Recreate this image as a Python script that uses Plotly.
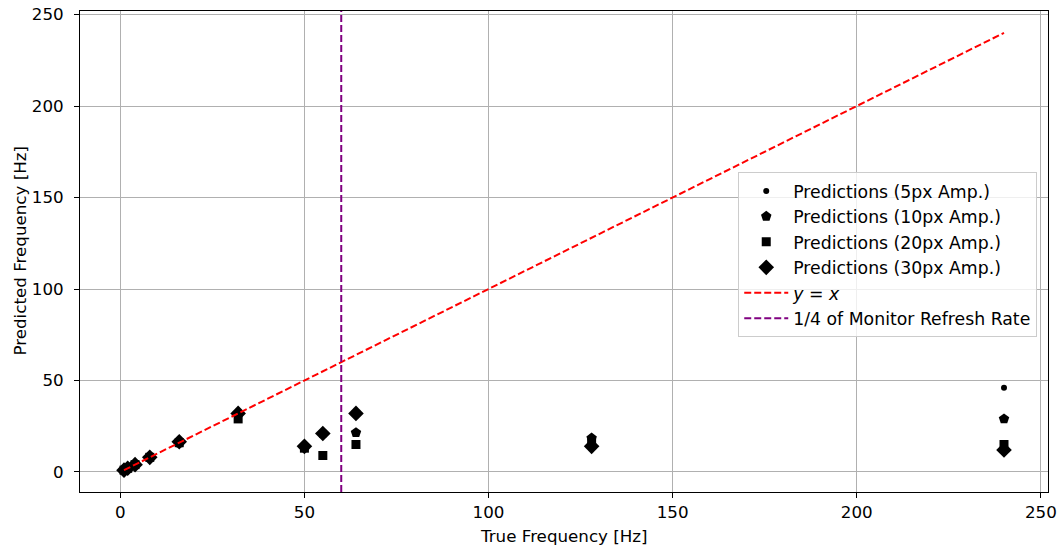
import plotly.graph_objects as go

freqs = [1, 2, 4, 8, 16, 32, 50, 55, 64, 128, 240]
pred_5px = [1, 2, 4, 8, 16, 32, 14, 21, 21, 18, 46]
pred_10px = [1, 2, 4, 8, 16, 32, 14, 21, 21.5, 18.5, 29]
pred_20px = [1, 2, 4, 8, 16, 29, 13, 9, 15, 16, 15]
pred_30px = [1, 2, 4, 8, 16.5, 32, 14, 21, 32, 14, 12]
identity_x = [1, 240]
refresh_quarter = 60

FONT = "DejaVu Sans"
FS = 16.7
LFS = 17.3
fig = go.Figure()

series = [
    ("Predictions (5px Amp.)", pred_5px, "circle", 6),
    ("Predictions (10px Amp.)", pred_10px, "pentagon", 11),
    ("Predictions (20px Amp.)", pred_20px, "square", 9),
    ("Predictions (30px Amp.)", pred_30px, "diamond", 12),
]
for i, (name, ys, sym, sz) in enumerate(series):
    fig.add_trace(go.Scatter(
        x=freqs, y=ys, mode="markers", name=name, legendgroup=f"g{i}",
        marker=dict(symbol=sym, size=sz, color="black", line=dict(width=0)),
    ))

fig.add_trace(go.Scatter(
    x=identity_x, y=identity_x, mode="lines", name="<i>y</i> = <i>x</i>", legendgroup="g4",
    line=dict(color="red", width=2, dash="7px,3px"),
))
fig.add_trace(go.Scatter(
    x=[refresh_quarter, refresh_quarter], y=[-10.95, 251.95], mode="lines",
    name="1/4 of Monitor Refresh Rate", legendgroup="g5",
    line=dict(color="purple", width=2, dash="7px,3px"),
))

axis_common = dict(
    showgrid=True, gridcolor="#b0b0b0", gridwidth=1,
    zeroline=False, showline=True, linecolor="black", linewidth=1, mirror=True,
    ticks="outside", ticklen=5, tickcolor="black", tickwidth=1,
    tickfont=dict(family=FONT, size=FS, color="black"),
    automargin=False, ticklabeloverflow="allow",
)
fig.update_xaxes(range=[-10.95, 251.95], tickvals=[0, 50, 100, 150, 200, 250], **axis_common)
fig.update_yaxes(range=[-10.95, 251.95], tickvals=[0, 50, 100, 150, 200, 250],
                 ticklabelstandoff=7, **axis_common)

fig.add_annotation(text="True Frequency [Hz]", xref="paper", yref="paper", x=0.5, y=0,
                   yshift=-44, xanchor="center", yanchor="middle", showarrow=False,
                   font=dict(family=FONT, size=FS, color="black"))
fig.add_annotation(text="Predicted Frequency [Hz]", xref="paper", yref="paper", x=0, y=0.5,
                   xshift=-61, xanchor="center", yanchor="middle", textangle=-90, showarrow=False,
                   font=dict(family=FONT, size=FS, color="black"))

fig.update_layout(
    width=1062, height=552,
    margin=dict(l=80, r=14, t=11, b=60),
    plot_bgcolor="white", paper_bgcolor="white",
    font=dict(family=FONT, size=FS, color="black"),
    legend=dict(
        x=0.68, y=0.665, xanchor="left", yanchor="top",
        bgcolor="rgba(255,255,255,0.8)", bordercolor="#cccccc", borderwidth=1,
        font=dict(family=FONT, size=LFS, color="black"),
        tracegroupgap=0, itemwidth=44,
    ),
)

# remove the default 8px page margin so the figure fills the window exactly
fig.write_html(
    "out.html",
    config={"displayModeBar": False},
    post_script="document.body.style.margin='0';document.body.style.overflow='hidden';",
)
